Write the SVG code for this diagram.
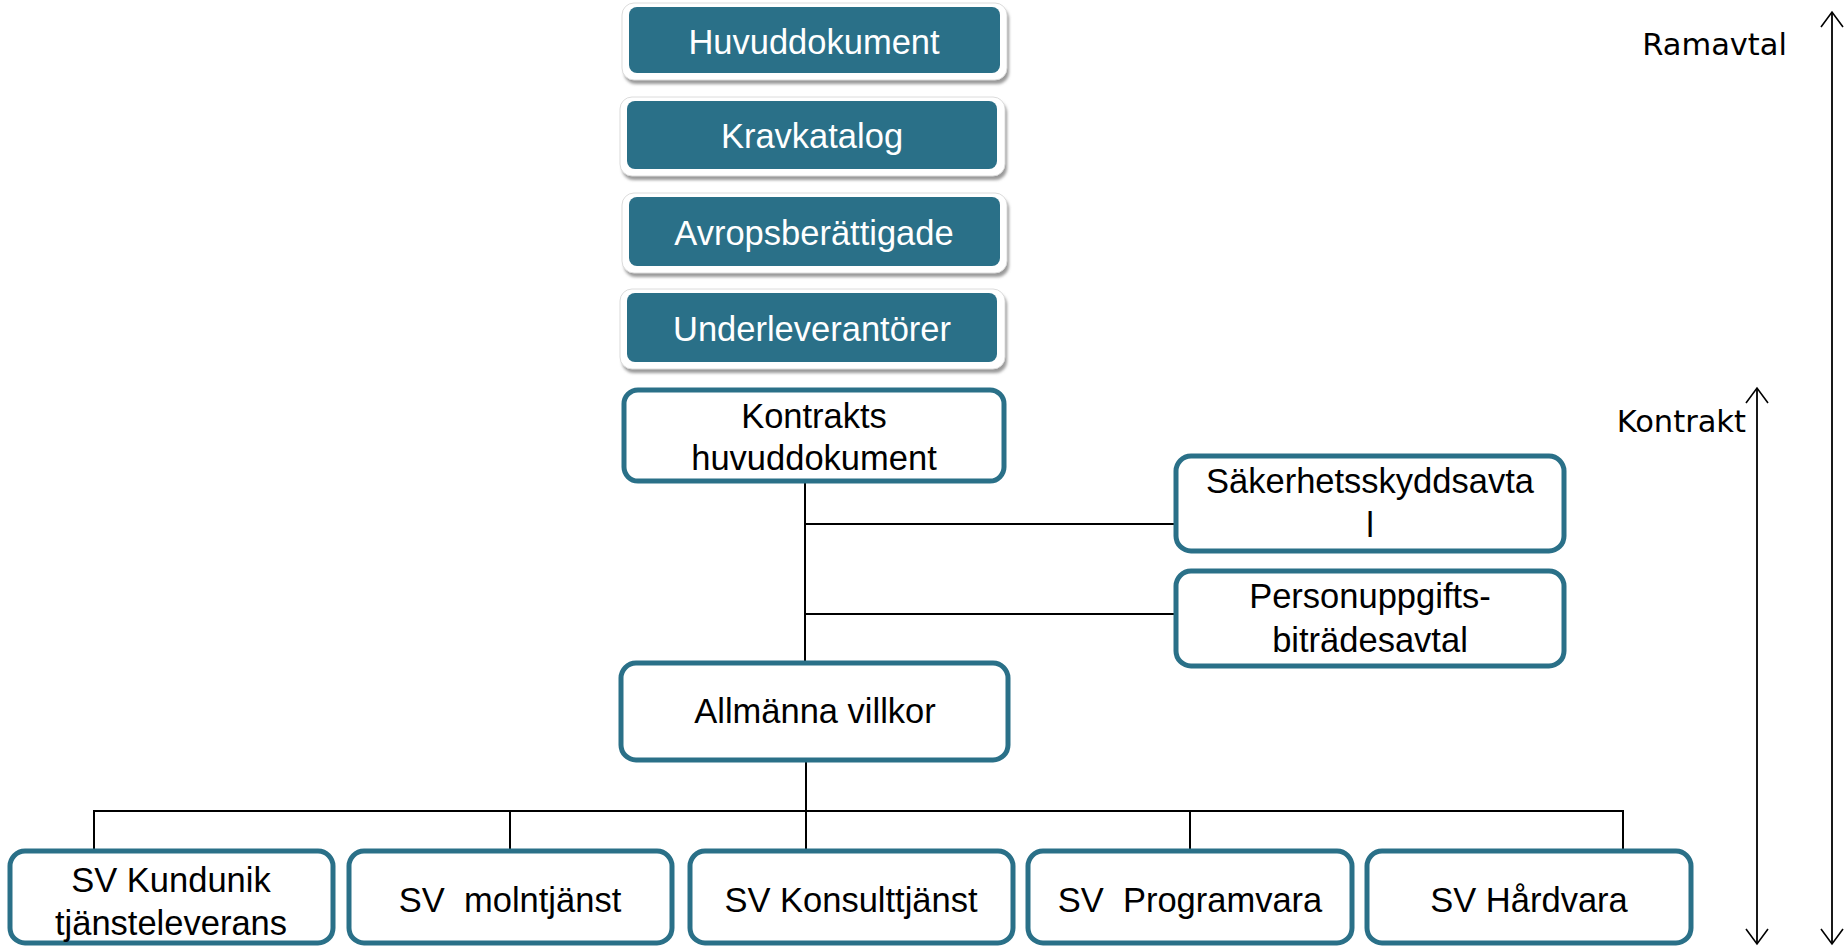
<svg xmlns="http://www.w3.org/2000/svg" width="1847" height="946" viewBox="0 0 1847 946">
<defs>
<filter id="sh" x="-5%" y="-20%" width="110%" height="150%">
<feGaussianBlur stdDeviation="1.5"/>
</filter>
<marker id="arr" viewBox="0 0 18 24" refX="16" refY="12" markerWidth="18" markerHeight="24" markerUnits="userSpaceOnUse" orient="auto-start-reverse">
<path d="M1,1 L16,12 L1,23" fill="none" stroke="#000" stroke-width="1.6"/>
</marker>
</defs>
<style>
.shadow{fill:#9a9a9a;filter:url(#sh)}
.frame{fill:#fff;stroke:#dcdcdc;stroke-width:1}
.teal{fill:#2a7088}
.wt{font-family:"Liberation Sans",Arial,sans-serif;font-size:34.5px;fill:#fff;text-anchor:middle}
.box{fill:#fff;stroke:#2a7088;stroke-width:5}
.bt{font-family:"Liberation Sans",Arial,sans-serif;font-size:34.5px;fill:#000;text-anchor:middle;white-space:pre}
.side{font-family:"DejaVu Sans",Verdana,sans-serif;font-size:30.5px;fill:#000}
.ln{stroke:#000;stroke-width:2;fill:none}
</style>
<g id="connectors">
<line class="ln" x1="805" y1="483" x2="805" y2="661" stroke-width="1.6"/>
<line class="ln" x1="805" y1="524" x2="1174" y2="524"/>
<line class="ln" x1="805" y1="614" x2="1174" y2="614"/>
<line class="ln" x1="806" y1="762" x2="806" y2="852"/>
<polyline class="ln" points="94,852 94,811 1623,811 1623,852"/>
<line class="ln" x1="510" y1="811" x2="510" y2="852"/>
<line class="ln" x1="1190" y1="811" x2="1190" y2="852"/>
</g>
<g id="ramavtal-arrow">
<line x1="1832" y1="12" x2="1832" y2="944" stroke="#000" stroke-width="1.8" marker-start="url(#arr)" marker-end="url(#arr)"/>
<text class="side" x="1787" y="55" text-anchor="end">Ramavtal</text>
</g>
<g id="kontrakt-arrow">
<line x1="1757" y1="388" x2="1757" y2="944" stroke="#000" stroke-width="1.8" marker-start="url(#arr)" marker-end="url(#arr)"/>
<text class="side" x="1746" y="432" text-anchor="end">Kontrakt</text>
</g>
<g id="huvuddokument">
<rect class="shadow" x="624" y="7" width="385" height="77" rx="12"/>
<rect class="frame" x="622" y="3" width="385" height="77" rx="12"/>
<rect class="teal" x="629" y="7" width="371" height="66" rx="8"/>
<text class="wt" x="814" y="54">Huvuddokument</text>
</g>
<g id="kravkatalog">
<rect class="shadow" x="622" y="101" width="385" height="79" rx="12"/>
<rect class="frame" x="620" y="97" width="385" height="79" rx="12"/>
<rect class="teal" x="627" y="101" width="370" height="68" rx="8"/>
<text class="wt" x="812" y="148">Kravkatalog</text>
</g>
<g id="avropsberattigade">
<rect class="shadow" x="624" y="197" width="385" height="80" rx="12"/>
<rect class="frame" x="622" y="193" width="385" height="80" rx="12"/>
<rect class="teal" x="629" y="197" width="371" height="69" rx="8"/>
<text class="wt" x="814" y="245">Avropsberättigade</text>
</g>
<g id="underleverantorer">
<rect class="shadow" x="622" y="293" width="385" height="80" rx="12"/>
<rect class="frame" x="620" y="289" width="385" height="80" rx="12"/>
<rect class="teal" x="627" y="293" width="370" height="69" rx="8"/>
<text class="wt" x="812" y="341">Underleverantörer</text>
</g>
<g id="kontrakts-huvuddokument">
<rect class="box" x="624" y="390" width="380" height="91" rx="14"/>
<text class="bt" x="814" y="428">Kontrakts</text>
<text class="bt" x="814" y="470">huvuddokument</text>
</g>
<g id="sakerhetsskyddsavtal">
<rect class="box" x="1176" y="456" width="388" height="95" rx="15"/>
<text class="bt" x="1370" y="493">Säkerhetsskyddsavta</text>
<text class="bt" x="1370" y="537">l</text>
</g>
<g id="personuppgiftsbitradesavtal">
<rect class="box" x="1176" y="571" width="388" height="95" rx="15"/>
<text class="bt" x="1370" y="608">Personuppgifts-</text>
<text class="bt" x="1370" y="652">biträdesavtal</text>
</g>
<g id="allmanna-villkor">
<rect class="box" x="621" y="663" width="387" height="97" rx="15"/>
<text class="bt" x="815" y="723">Allmänna villkor</text>
</g>
<g id="sv-kundunik">
<rect class="box" x="10" y="851" width="323" height="92" rx="15"/>
<text class="bt" x="171" y="892">SV Kundunik</text>
<text class="bt" x="171" y="935">tjänsteleverans</text>
</g>
<g id="sv-molntjanst">
<rect class="box" x="349" y="851" width="323" height="92" rx="15"/>
<text class="bt" x="510" y="912">SV  molntjänst</text>
</g>
<g id="sv-konsulttjanst">
<rect class="box" x="690" y="851" width="323" height="92" rx="15"/>
<text class="bt" x="851" y="912">SV Konsulttjänst</text>
</g>
<g id="sv-programvara">
<rect class="box" x="1028" y="851" width="324" height="92" rx="15"/>
<text class="bt" x="1190" y="912">SV  Programvara</text>
</g>
<g id="sv-hardvara">
<rect class="box" x="1367" y="851" width="324" height="92" rx="15"/>
<text class="bt" x="1529" y="912">SV Hårdvara</text>
</g>
</svg>
